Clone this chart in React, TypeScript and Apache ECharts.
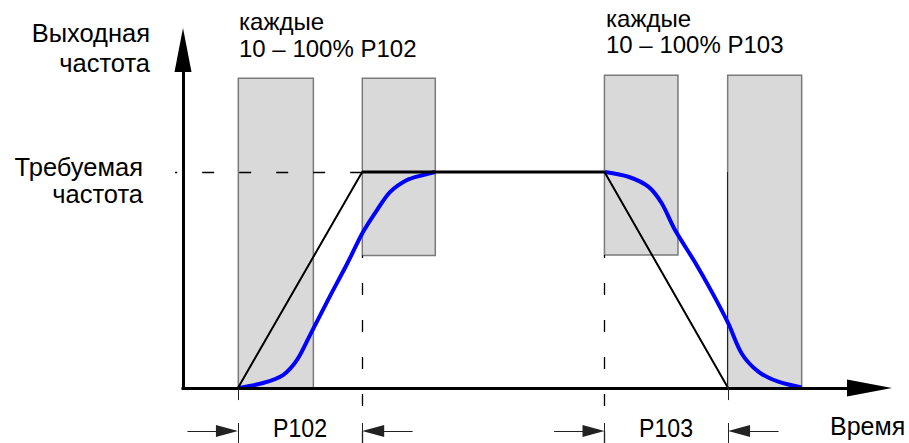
import React, { useEffect, useRef } from "react";
import * as echarts from "echarts";

// Units: time in % of the drawn time span (0 = vertical axis, 100 = end of time axis),
// output frequency in % of the required frequency (100 = "Требуемая частота").
const REQUIRED = 100;
const TIME_END = 100;
const FREQ_END = 156.5;

// Linear ramp (black): accel P102 from 8.0 to 26.1, decel P103 from 61.4 to 79.4
const rampTime = [8.0, 26.1, 61.4, 79.4];
const rampFreq = [0, 100, 100, 0];

// S-curve (blue)
const sRiseTime = [8.0, 11.65, 14.57, 16.61, 18.5, 21.41, 23.89, 26.22, 28.26, 30.15, 32.63, 34.96, 36.71];
const sRiseFreq = [0, 2.3, 6.0, 13.0, 24.5, 42.5, 57.4, 72.2, 82.4, 90.7, 96.3, 98.6, 100];
const sFallTime = [61.47, 64.87, 67.78, 69.73, 71.67, 74.58, 77.01, 79.43, 81.38, 83.8, 86.71, 90.12];
const sFallFreq = [100, 97.8, 93.2, 85.5, 73.1, 58.2, 44.6, 29.9, 16.0, 7.6, 2.9, 0.3];

// Grey rounding windows
const winStart = [8.06, 26.12, 61.39, 79.34];
const winEnd = [18.99, 36.75, 72.1, 90.12];
const winLow = [0, 61.3, 61.6, 0];
const winHigh = [143.4, 143.4, 144.8, 144.8];

// Dimension annotations
const dimStart = [8.0, 61.4];
const dimEnd = [26.1, 79.4];
const dimLabels = ["P102", "P103"];
const dimLevel = -19.9;
const dimLead = 7.35;
const tickLow = -5.6;
const barTop = -16.2;
const FREQ_MIN = -25.46;

// Text
const yTitle = ["Выходная", "частота"];
const reqTitle = ["Требуемая", "частота"];
const winTitle1 = ["каждые", "10 – 100% P102"];
const winTitle2 = ["каждые", "10 – 100% P103"];
const xTitle = "Время";

// Layout (pixel mapping)
const W = 909;
const H = 443;
const ORIGIN_X = 183;
const ORIGIN_Y = 388;
const PX_X = 6.865;
const PX_Y = 2.16;
const FONT = '"Liberation Sans", Arial, Helvetica, sans-serif';

function label(text: string, x: number, baseline: number, size: number, align: string, scaleX = 1) {
  return {
    type: "text",
    x,
    y: baseline - 0.3465 * size,
    scaleX,
    silent: true,
    style: {
      text,
      fill: "#000",
      fontSize: size,
      fontFamily: FONT,
      align,
      textAlign: align,
      verticalAlign: "middle",
      textVerticalAlign: "middle",
    },
  };
}

function seg(x1: number, y1: number, x2: number, y2: number, lineStyle: any, endSymbol?: string, endSize?: number[]) {
  return [
    { coord: [x1, y1], symbol: "none", lineStyle },
    { coord: [x2, y2], symbol: endSymbol || "none", symbolSize: endSize || 0 },
  ];
}

export default function App() {
  const ref = useRef<HTMLDivElement>(null);
  useEffect(() => {
    if (!ref.current) return;
    const chart = echarts.init(ref.current, undefined, { renderer: "svg" });

    const xMin = -ORIGIN_X / PX_X;
    const xMax = (W - ORIGIN_X) / PX_X;
    const yMin = -(H - ORIGIN_Y) / PX_Y;
    const yMax = ORIGIN_Y / PX_Y;
    const arrowHalf = 11 / PX_X;

    const axisStyle = { color: "#000", width: 3, type: "solid" };
    const dashStyle = { color: "#000", width: 1.3, type: [12, 25] };
    const thinStyle = { color: "#222", width: 1, type: "solid" };

    const marks: any[] = [
      seg(-0.22, 0, TIME_END, 0, axisStyle, "triangle", [17, 45]),
      seg(0, -0.7, 0, FREQ_END, axisStyle, "triangle", [17, 44]),
      seg(rampTime[1], REQUIRED, -8 / PX_X, REQUIRED, dashStyle),
      seg(dimEnd[0], FREQ_MIN, dimEnd[0], winLow[1], dashStyle),
      seg(dimStart[1], FREQ_MIN, dimStart[1], winLow[2], dashStyle),
      seg(dimStart[0], 0, dimStart[0], tickLow, thinStyle),
      seg(dimEnd[1], 0, dimEnd[1], tickLow, thinStyle),
      seg(winStart[3], 0, winStart[3], REQUIRED, { color: "#222", width: 1, type: "solid" }),
    ];
    dimStart.forEach((s, i) => {
      const e = dimEnd[i];
      marks.push(seg(s, barTop, s, FREQ_MIN, thinStyle));
      marks.push(seg(e, barTop, e, FREQ_MIN, thinStyle));
      marks.push(seg(s - dimLead, dimLevel, s - arrowHalf, dimLevel, thinStyle, "triangle", [12, 22]));
      marks.push(seg(e + dimLead, dimLevel, e + arrowHalf, dimLevel, thinStyle, "triangle", [12, 22]));
    });

    const areas = winStart.map((s, i) => [
      { coord: [s, winLow[i]] },
      { coord: [winEnd[i], winHigh[i]] },
    ]);

    const graphic: any[] = [
      label(yTitle[0], 150, 42, 25.5, "right"),
      label(yTitle[1], 150, 72, 25.5, "right"),
      label(reqTitle[0], 143, 176, 25.5, "right"),
      label(reqTitle[1], 143, 203, 25.5, "right"),
      label(winTitle1[0], 239, 30, 24, "left"),
      label(winTitle1[1], 239, 57, 24, "left"),
      label(winTitle2[0], 606, 27, 24, "left"),
      label(winTitle2[1], 606, 53, 24, "left"),
      label(dimLabels[0], 300, 437.5, 26, "center", 0.89),
      label(dimLabels[1], 666, 437.5, 26, "center", 0.89),
      label(xTitle, 830, 435, 25, "left"),
    ];

    chart.setOption({
      animation: false,
      grid: { left: 0, right: 0, top: 0, bottom: 0, containLabel: false },
      xAxis: { type: "value", min: xMin, max: xMax, show: false },
      yAxis: { type: "value", min: yMin, max: yMax, show: false },
      tooltip: { show: false },
      graphic,
      series: [
        {
          type: "line",
          z: 2,
          data: sRiseTime.map((t, i) => [t, sRiseFreq[i]]),
          smooth: 0.3,
          symbol: "none",
          lineStyle: { color: "#0000ff", width: 4 },
          silent: true,
          markArea: {
            silent: true,
            z: 1,
            itemStyle: { color: "#d9d9d9", borderColor: "#7a7a7a", borderWidth: 1.5 },
            label: { show: false },
            data: areas,
          },
        },
        {
          type: "line",
          z: 2,
          data: sFallTime.map((t, i) => [t, sFallFreq[i]]),
          smooth: 0.3,
          symbol: "none",
          lineStyle: { color: "#0000ff", width: 4 },
          silent: true,
        },
        {
          type: "line",
          z: 3,
          data: rampTime.map((t, i) => [t, rampFreq[i]]),
          symbol: "none",
          lineStyle: { color: "#000", width: 2 },
          silent: true,
        },
        {
          type: "line",
          z: 3,
          data: [
            [rampTime[1], rampFreq[1]],
            [rampTime[2], rampFreq[2]],
          ],
          symbol: "none",
          lineStyle: { color: "#000", width: 3.2 },
          silent: true,
          markLine: {
            silent: true,
            z: 5,
            symbol: ["none", "none"],
            label: { show: false },
            emphasis: { disabled: true },
            animation: false,
            data: marks,
          },
        },
      ],
    });
    return () => chart.dispose();
  }, []);
  return (
    <div
      ref={ref}
      style={{ position: "absolute", left: 0, top: 0, width: W, height: H, background: "#fff" }}
    />
  );
}
